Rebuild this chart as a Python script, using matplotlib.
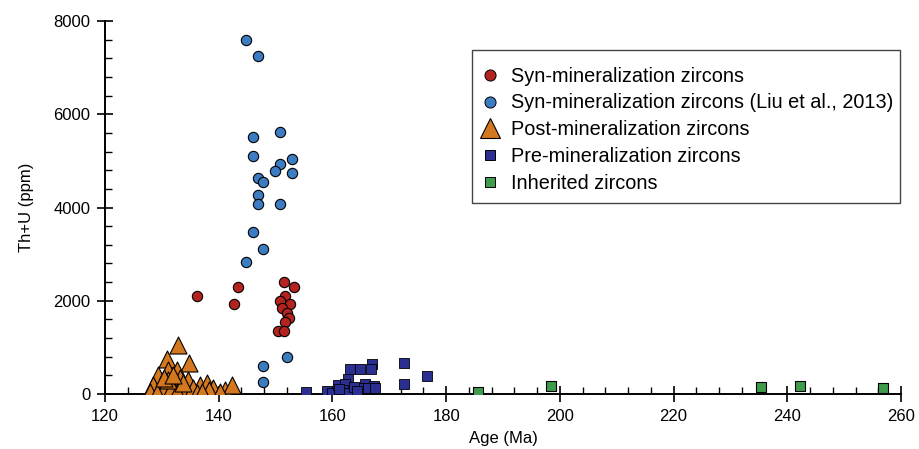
import matplotlib
matplotlib.use("Agg")
import matplotlib.pyplot as plt
from matplotlib.lines import Line2D
from matplotlib.patches import Rectangle
from matplotlib.ticker import MultipleLocator

plt.rcParams['font.family'] = ['Liberation Sans', 'DejaVu Sans']

# Syn-mineralization zircons (this study)
syn_age = [143.3, 142.7, 151.4, 153.2, 151.7, 150.8, 152.6, 151.1, 152.0, 152.3,
           151.7, 150.5, 151.5, 136.2]
syn_thu = [2290, 1930, 2400, 2290, 2110, 2000, 1930, 1850, 1745, 1625,
           1550, 1360, 1345, 2100]

# Syn-mineralization zircons (Liu et al., 2013)
liu_age = [144.8, 146.9, 150.8, 146.0, 146.0, 152.9, 150.8, 149.9, 152.9, 146.9,
           147.8, 146.9, 146.9, 150.8, 146.0, 147.8, 144.8, 147.8, 147.8, 152.0]
liu_thu = [7590, 7260, 5620, 5510, 5110, 5040, 4930, 4780, 4740, 4630,
           4550, 4270, 4080, 4080, 3470, 3100, 2840, 600, 260, 800]

# Post-mineralization zircons
post_age = [132.8, 134.8, 130.9, 129.4, 131.1, 132.6, 133.2, 134.6, 136.7, 137.9,
            139.0, 141.1, 142.3, 128.5, 127.9, 130.0, 131.7, 133.8, 135.5, 129.1,
            132.6, 136.1, 138.2, 140.2, 131.1, 133.8, 130.3, 132.0, 137.0]
post_thu = [1050, 660, 745, 410, 515, 515, 335, 300, 195, 230,
            120, 85, 195, 195, 50, 155, 155, 85, 120, 15,
            50, 15, 85, 50, 300, 230, 335, 410, 50]

# Pre-mineralization zircons
pre_age = [155.3, 159.0, 159.9, 163.1, 164.8, 167.0, 166.7, 172.6, 176.6, 172.6,
           162.8, 160.9, 162.2, 161.9, 162.8, 165.7, 167.3, 164.8, 166.3, 163.8,
           161.2, 167.5, 164.4]
pre_thu = [50, 65, 30, 535, 535, 645, 535, 665, 395, 215,
           315, 195, 210, 85, 30, 210, 170, 135, 120, 155,
           100, 120, 70]

# Inherited zircons
inh_age = [185.6, 198.4, 235.4, 242.2, 256.9]
inh_thu = [50, 170, 150, 170, 125]

c_red = '#b3231f'
c_blue = '#3b7cc2'
c_orange = '#d3781e'
c_navy = '#2b2f92'
c_green = '#3e9c4c'

fig = plt.figure(figsize=(9.19, 4.49), dpi=100)
ax = fig.add_axes([0.1143, 0.1225, 0.8661, 0.8307])

ax.scatter(post_age, post_thu, marker='^', s=150, c=c_orange, edgecolors='black', linewidths=0.8, zorder=3)
ax.scatter(pre_age, pre_thu, marker='s', s=44, c=c_navy, edgecolors='black', linewidths=0.6, zorder=3)
ax.scatter(liu_age, liu_thu, marker='o', s=55, c=c_blue, edgecolors='black', linewidths=0.8, zorder=3)
ax.scatter(syn_age, syn_thu, marker='o', s=55, c=c_red, edgecolors='black', linewidths=0.8, zorder=4)
ax.scatter(inh_age, inh_thu, marker='s', s=44, c=c_green, edgecolors='black', linewidths=0.8, zorder=3)

ax.set_xlim(120, 260)
ax.set_ylim(0, 8000)
ax.xaxis.set_major_locator(MultipleLocator(20))
ax.xaxis.set_minor_locator(MultipleLocator(4))
ax.yaxis.set_major_locator(MultipleLocator(2000))
ax.yaxis.set_minor_locator(MultipleLocator(400))

for s in ['top', 'right']:
    ax.spines[s].set_visible(False)
for s in ['left', 'bottom']:
    ax.spines[s].set_linewidth(1.4)
ax.tick_params(which='major', direction='inout', length=11, width=1.2, labelsize=12, pad=5)
ax.tick_params(which='minor', direction='in', length=5, width=1.0)

ax.set_xlabel('Age (Ma)', fontsize=12, labelpad=5)
ax.set_ylabel('Th+U (ppm)', fontsize=12, labelpad=14)

handles = [
    Line2D([], [], ls='none', marker='o', ms=8, mfc=c_red, mec='black', mew=0.7),
    Line2D([], [], ls='none', marker='o', ms=8, mfc=c_blue, mec='black', mew=0.7),
    Line2D([], [], ls='none', marker='^', ms=15, mfc=c_orange, mec='black', mew=0.8),
    Line2D([], [], ls='none', marker='s', ms=7, mfc=c_navy, mec='black', mew=0.7),
    Line2D([], [], ls='none', marker='s', ms=7, mfc=c_green, mec='black', mew=0.7),
]
labels = ['Syn-mineralization zircons',
          'Syn-mineralization zircons (Liu et al., 2013)',
          'Post-mineralization zircons',
          'Pre-mineralization zircons',
          'Inherited zircons']
leg = ax.legend(handles, labels, loc='upper left', bbox_to_anchor=(0.471, 0.878),
                fontsize=14.3, frameon=False,
                handlelength=1.0, handletextpad=0.55, borderpad=0, labelspacing=0.4,
                borderaxespad=0)

# legend box
ax.add_patch(Rectangle((0.461, 0.512), 0.538, 0.410, transform=ax.transAxes,
                       fill=False, edgecolor='#444444', linewidth=1.0, clip_on=False, zorder=5))

fig.savefig('out.png', dpi=100)
